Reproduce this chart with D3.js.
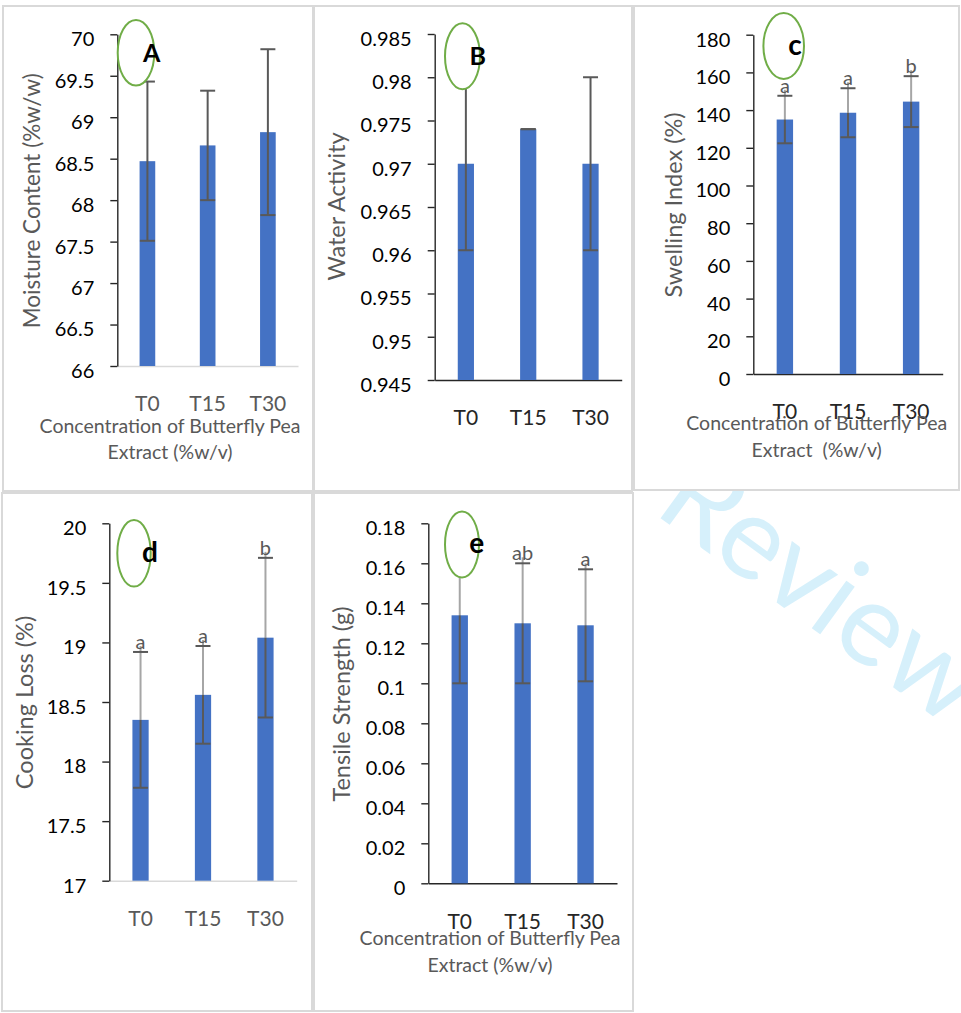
<!DOCTYPE html>
<html>
<head>
<meta charset="utf-8">
<script src="https://cdn.jsdelivr.net/npm/d3@7"></script>
<style>
  html, body { margin: 0; padding: 0; background: #fff; }
  svg { display: block; }
  text { font-family: Lato, "Liberation Sans", sans-serif; }
</style>
</head>
<body>
<svg id="chart" width="961" height="1013"></svg>
<script>
// ---- data ----
const categories = ["T0", "T15", "T30"];

const moisture = [68.47, 68.66, 68.82];
const moistureErr = [0.96, 0.66, 1.00];

const waterActivity = [0.970, 0.974, 0.970];
const waterActivityErr = [0.010, 0.000, 0.010];

const swellingIndex = [135.0, 138.6, 144.5];
const swellingIndexErr = [12.6, 13.0, 13.5];
const swellingLetters = ["a", "a", "b"];

const cookingLoss = [18.35, 18.56, 19.04];
const cookingLossErr = [0.57, 0.41, 0.67];
const cookingLetters = ["a", "a", "b"];

const tensileStrength = [0.134, 0.130, 0.129];
const tensileStrengthErr = [0.034, 0.030, 0.028];
const tensileLetters = ["", "ab", "a"];

const moistureTicks = [66, 66.5, 67, 67.5, 68, 68.5, 69, 69.5, 70];
const waterActivityTicks = [0.945, 0.95, 0.955, 0.96, 0.965, 0.97, 0.975, 0.98, 0.985];
const swellingTicks = [0, 20, 40, 60, 80, 100, 120, 140, 160, 180];
const cookingTicks = [17, 17.5, 18, 18.5, 19, 19.5, 20];
const tensileTicks = [0, 0.02, 0.04, 0.06, 0.08, 0.1, 0.12, 0.14, 0.16, 0.18];

const xTitle = ["Concentration of Butterfly Pea", "Extract (%w/v)"];
const xTitleWide = ["Concentration of Butterfly Pea", "Extract  (%w/v)"];

// ---- colours ----
const BAR = "#4472c4";
const ERR_DARK = "#595959";
const ERR_LIGHT = "#a6a6a6";
const FRAME = "#d9d9d9";
const AXIS = "#262626";
const RING = "#70ad47";

// ---- panel layout ----
const panels = [
  { tag: "A", values: moisture, errors: moistureErr, letters: null, ticks: moistureTicks,
    yTitle: "Moisture Content (%w/w)", yTitleSize: 22.5, xTitle: xTitle,
    frame: { x: 3, y: 6, w: 310, h: 485 },
    plot: { left: 117.3, right: 298, top: 34.3, bottom: 366 },
    xAxisColor: FRAME, catColor: "#595959", split: false,
    yTitlePos: [40, 200.8], xTitlePos: [170, 432.7],
    ring: { cx: 136, cy: 52.8, rx: 18.3, ry: 32.8 }, tagPos: [151.7, 62.3] },
  { tag: "B", values: waterActivity, errors: waterActivityErr, letters: null, ticks: waterActivityTicks,
    yTitle: "Water Activity", yTitleSize: 23.5, xTitle: null,
    frame: { x: 314, y: 6, w: 318, h: 485 },
    plot: { left: 434.7, right: 621.7, top: 34, bottom: 380 },
    xAxisColor: AXIS, catColor: "#262626", split: false,
    yTitlePos: [345, 206.5], xTitlePos: null,
    ring: { cx: 462.5, cy: 56.3, rx: 17.5, ry: 33 }, tagPos: [477.8, 65] },
  { tag: "c", values: swellingIndex, errors: swellingIndexErr, letters: swellingLetters, ticks: swellingTicks,
    yTitle: "Swelling Index (%)", yTitleSize: 23.5, xTitle: xTitleWide,
    frame: { x: 634, y: 6, w: 325, h: 484 },
    plot: { left: 753.3, right: 942.7, top: 34.7, bottom: 374 },
    xAxisColor: AXIS, catColor: "#262626", split: true,
    yTitlePos: [681.7, 205], xTitlePos: [816.7, 430],
    ring: { cx: 783.7, cy: 46, rx: 20.3, ry: 33 }, tagPos: [795, 55] },
  { tag: "d", values: cookingLoss, errors: cookingLossErr, letters: cookingLetters, ticks: cookingTicks,
    yTitle: "Cooking Loss (%)", yTitleSize: 23.5, xTitle: null,
    frame: { x: 2, y: 493, w: 310, h: 518 },
    plot: { left: 109.3, right: 296.7, top: 523.3, bottom: 880.7 },
    xAxisColor: FRAME, catColor: "#595959", split: true,
    yTitlePos: [33.3, 702.5], xTitlePos: null,
    ring: { cx: 134, cy: 553.3, rx: 16.7, ry: 33.3 }, tagPos: [150, 561.7] },
  { tag: "e", values: tensileStrength, errors: tensileStrengthErr, letters: tensileLetters, ticks: tensileTicks,
    yTitle: "Tensile Strength (g)", yTitleSize: 23.5, xTitle: xTitle,
    frame: { x: 314, y: 493, w: 319, h: 518 },
    plot: { left: 428.3, right: 617, top: 523.3, bottom: 883.3 },
    xAxisColor: AXIS, catColor: "#262626", split: true,
    yTitlePos: [350, 704], xTitlePos: [490, 945],
    ring: { cx: 462, cy: 544.5, rx: 17, ry: 33 }, tagPos: [476.7, 553.3] }
];

const svg = d3.select("#chart");

// Page watermark, sitting beneath the chart frames
svg.append("text")
  .attr("transform", "translate(652,512) rotate(36)")
  .attr("font-family", "'Open Sans', sans-serif")
  .attr("font-size", 116)
  .attr("fill", "#d6f0fb")
  .text("Review");

const fmt = d3.format("~g");

function drawPanel(p) {
  const g = svg.append("g");

  g.append("rect")
    .attr("x", p.frame.x).attr("y", p.frame.y)
    .attr("width", p.frame.w).attr("height", p.frame.h)
    .attr("fill", "#fff").attr("stroke", FRAME).attr("stroke-width", 2);

  const y = d3.scaleLinear()
    .domain([p.ticks[0], p.ticks[p.ticks.length - 1]])
    .range([p.plot.bottom, p.plot.top]);
  const x = d3.scaleBand()
    .domain(categories)
    .range([p.plot.left, p.plot.right])
    .paddingInner(0.74).paddingOuter(0.37);

  // category axis
  const xa = g.append("g")
    .attr("transform", `translate(0,${p.plot.bottom})`)
    .call(d3.axisBottom(x).tickSize(0).tickPadding(30.5));
  xa.select(".domain").attr("stroke", p.xAxisColor).attr("stroke-width", 1.4);
  xa.selectAll("text")
    .attr("fill", p.catColor).attr("font-size", 21)
    .attr("font-family", "Lato, sans-serif");

  // bars
  const rows = categories.map((c, i) => ({ c, v: p.values[i], e: p.errors[i], l: p.letters ? p.letters[i] : "" }));
  g.selectAll("rect.bar").data(rows).join("rect")
    .attr("class", "bar")
    .attr("x", d => x(d.c)).attr("width", x.bandwidth())
    .attr("y", d => y(d.v)).attr("height", d => p.plot.bottom - y(d.v))
    .attr("fill", BAR);

  // value axis
  const ya = g.append("g")
    .attr("transform", `translate(${p.plot.left},0)`)
    .call(d3.axisLeft(y).tickValues(p.ticks).tickSize(7).tickSizeOuter(0)
      .tickPadding(16).tickFormat(fmt));
  ya.select(".domain").attr("stroke", AXIS).attr("stroke-width", 1.4);
  ya.selectAll(".tick line").attr("stroke", AXIS).attr("stroke-width", 1.4);
  ya.selectAll("text").attr("fill", "#000").attr("font-size", 20).attr("y", 5)
    .attr("font-family", "Lato, sans-serif");

  // error bars
  const eb = g.append("g");
  const capHalf = 7.5;
  rows.forEach(d => {
    const cx = x(d.c) + x.bandwidth() / 2;
    const yHi = y(d.v + d.e), yLo = y(d.v - d.e), yBar = y(d.v);
    if (p.split) {
      eb.append("line").attr("x1", cx).attr("x2", cx).attr("y1", yHi - 6).attr("y2", yBar)
        .attr("stroke", ERR_LIGHT).attr("stroke-width", 2);
      eb.append("line").attr("x1", cx).attr("x2", cx).attr("y1", yBar).attr("y2", yLo)
        .attr("stroke", ERR_DARK).attr("stroke-width", 2);
    } else {
      eb.append("line").attr("x1", cx).attr("x2", cx).attr("y1", yHi).attr("y2", yLo)
        .attr("stroke", ERR_DARK).attr("stroke-width", 2);
    }
    [yHi, yLo].forEach(yy => eb.append("line")
      .attr("x1", cx - capHalf).attr("x2", cx + capHalf).attr("y1", yy).attr("y2", yy)
      .attr("stroke", ERR_DARK).attr("stroke-width", 2));
    if (d.l) {
      eb.append("text").attr("x", cx).attr("y", yHi - 3)
        .attr("text-anchor", "middle").attr("font-size", 20).attr("fill", "#595959")
        .text(d.l);
    }
  });

  // panel tag inside its ring
  g.append("ellipse")
    .attr("cx", p.ring.cx).attr("cy", p.ring.cy).attr("rx", p.ring.rx).attr("ry", p.ring.ry)
    .attr("fill", "#fff").attr("stroke", RING).attr("stroke-width", 2);
  g.append("text")
    .attr("x", p.tagPos[0]).attr("y", p.tagPos[1])
    .attr("text-anchor", "middle").attr("font-weight", "bold")
    .attr("font-size", p.tag === p.tag.toUpperCase() ? 25 : 28).attr("fill", "#000")
    .text(p.tag);

  // axis titles
  g.append("text")
    .attr("transform", `translate(${p.yTitlePos[0]},${p.yTitlePos[1]}) rotate(-90)`)
    .attr("text-anchor", "middle").attr("font-size", p.yTitleSize).attr("fill", "#595959")
    .text(p.yTitle);
  if (p.xTitle) {
    p.xTitle.forEach((line, i) => {
      g.append("text")
        .attr("x", p.xTitlePos[0]).attr("y", p.xTitlePos[1] + i * 26.5)
        .attr("text-anchor", "middle").attr("font-size", 19.5).attr("fill", "#595959")
        .style("white-space", "pre")
        .text(line);
    });
  }
}

panels.forEach(drawPanel);
</script>
</body>
</html>
